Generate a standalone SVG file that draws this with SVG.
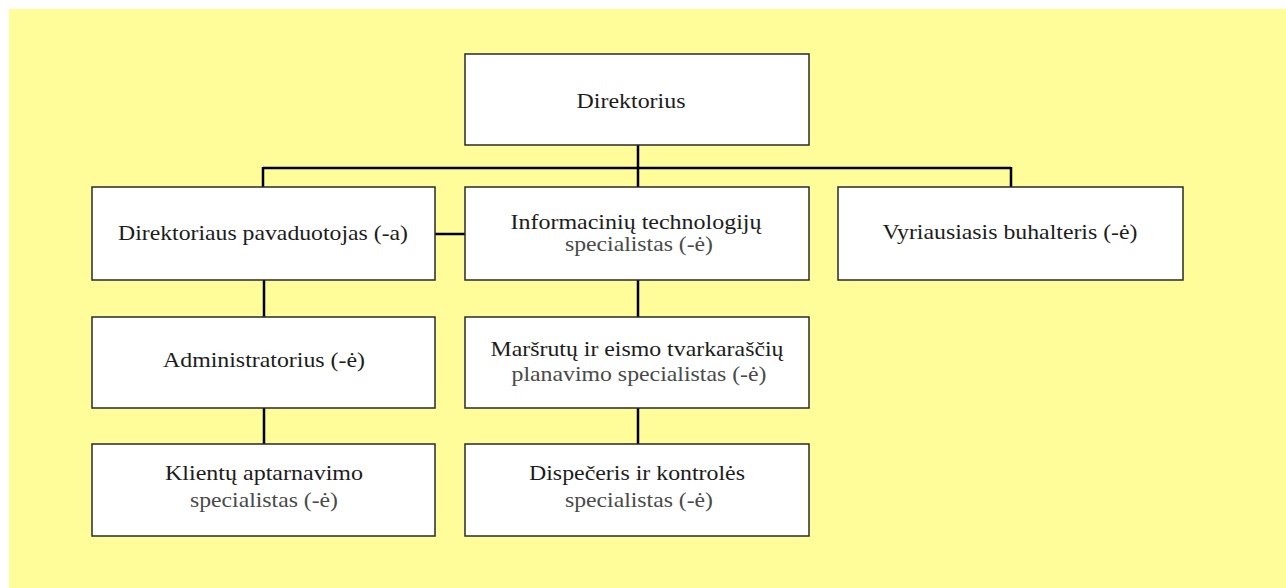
<svg xmlns="http://www.w3.org/2000/svg" width="1286" height="588" viewBox="0 0 1286 588">
<style>
.box{fill:#fff;stroke:#2a2a2a;stroke-width:1.5}
.t{font-family:"Liberation Serif","Times New Roman",serif;font-size:21px;fill:#1c1c1c;text-anchor:middle}
.g{fill:#4a4a4a}
.c{fill:none;stroke:#000;stroke-width:2.5}
</style>
<rect x="0" y="0" width="1286" height="588" fill="#fff"/>
<rect x="9" y="9" width="1277" height="579" fill="#FFFD99"/>
<g id="connectors">
<path class="c" d="M638 145V188M263 168H1011M263 167V188M1011 167V188M435 234H465M264 280V318M638 280V318M264 408V445M638 408V445"/>
</g>
<g id="n-direktorius">
<rect class="box" x="465" y="54" width="344" height="91"/>
<text class="t" x="631" y="108" textLength="109" lengthAdjust="spacingAndGlyphs">Direktorius</text>
</g>
<g id="n-pavaduotojas">
<rect class="box" x="92" y="187" width="343" height="93"/>
<text class="t" x="263" y="240" textLength="290" lengthAdjust="spacingAndGlyphs">Direktoriaus pavaduotojas (-a)</text>
</g>
<g id="n-it">
<rect class="box" x="465" y="187" width="344" height="93"/>
<text class="t" x="636" y="229" textLength="251" lengthAdjust="spacingAndGlyphs">Informacinių technologijų</text>
<text class="t g" x="639" y="251" textLength="148" lengthAdjust="spacingAndGlyphs">specialistas (-ė)</text>
</g>
<g id="n-buhalteris">
<rect class="box" x="838" y="187" width="345" height="93"/>
<text class="t" x="1010" y="239" textLength="255" lengthAdjust="spacingAndGlyphs">Vyriausiasis buhalteris (-ė)</text>
</g>
<g id="n-administratorius">
<rect class="box" x="92" y="317" width="343" height="91"/>
<text class="t" x="264" y="367" textLength="202" lengthAdjust="spacingAndGlyphs">Administratorius (-ė)</text>
</g>
<g id="n-marsrutu">
<rect class="box" x="465" y="317" width="344" height="91"/>
<text class="t" x="637" y="356" textLength="293" lengthAdjust="spacingAndGlyphs">Maršrutų ir eismo tvarkaraščių</text>
<text class="t g" x="639" y="381" textLength="255" lengthAdjust="spacingAndGlyphs">planavimo specialistas (-ė)</text>
</g>
<g id="n-klientu">
<rect class="box" x="92" y="444" width="343" height="92"/>
<text class="t" x="264" y="480" textLength="198" lengthAdjust="spacingAndGlyphs">Klientų aptarnavimo</text>
<text class="t g" x="264" y="507" textLength="148" lengthAdjust="spacingAndGlyphs">specialistas (-ė)</text>
</g>
<g id="n-dispeceris">
<rect class="box" x="465" y="444" width="344" height="92"/>
<text class="t" x="637" y="480" textLength="216" lengthAdjust="spacingAndGlyphs">Dispečeris ir kontrolės</text>
<text class="t g" x="639" y="507" textLength="148" lengthAdjust="spacingAndGlyphs">specialistas (-ė)</text>
</g>
</svg>
